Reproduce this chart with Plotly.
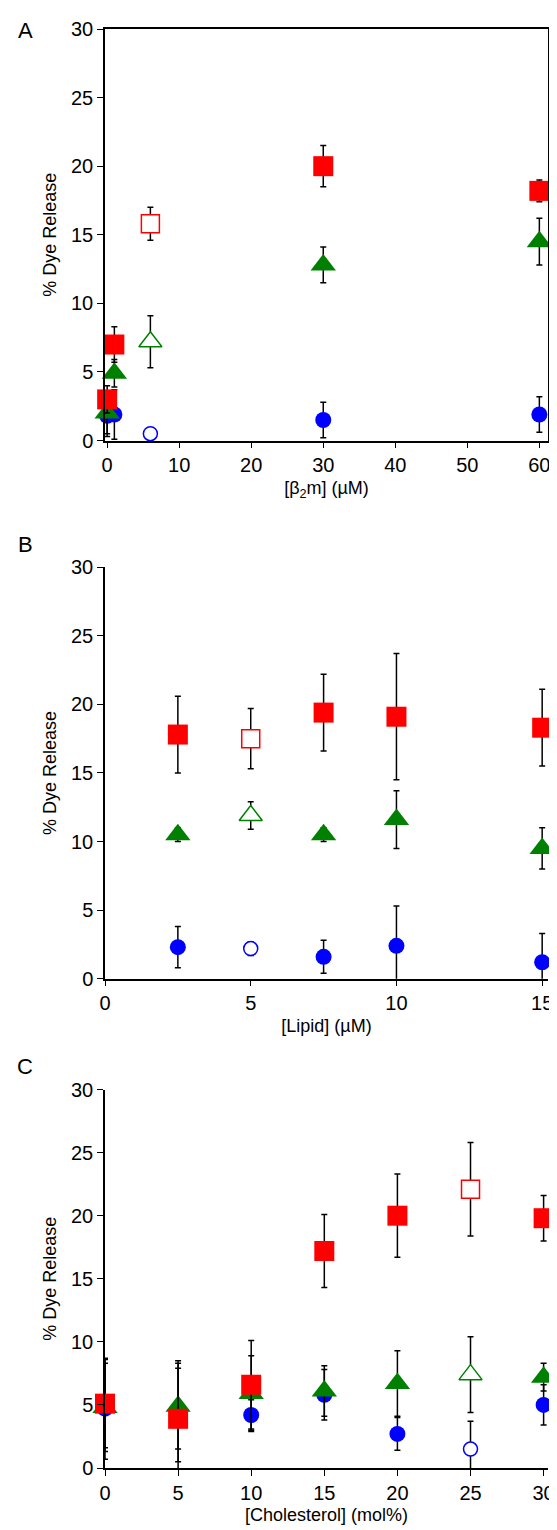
import plotly.graph_objects as go

# Panel A: [b2m] (uM)
a_x = [0, 1, 6, 30, 60]
a_red = [3.0, 7.0, 15.8, 20.0, 18.2]
a_red_err = [1.0, 1.3, 1.2, 1.5, 0.8]
a_green = [2.0, 4.9, 7.2, 12.8, 14.5]
a_green_err = [1.5, 1.0, 1.9, 1.3, 1.7]
a_blue = [1.8, 1.9, 0.5, 1.5, 1.9]
a_blue_err = [1.5, 1.8, 0.0, 1.3, 1.3]
a_open = 2  # index of open symbol

# Panel B: [Lipid] (uM)
b_x = [2.5, 5, 7.5, 10, 15]
b_red = [17.8, 17.5, 19.4, 19.1, 18.3]
b_red_err = [2.8, 2.2, 2.8, 4.6, 2.8]
b_green = [10.5, 11.9, 10.5, 11.6, 9.5]
b_green_err = [0.5, 1.0, 0.5, 2.1, 1.5]
b_blue = [2.3, 2.2, 1.6, 2.4, 1.2]
b_blue_err = [1.5, 0.5, 1.2, 2.9, 2.1]
b_open = 1

# Panel C: [Cholesterol] (mol%)
c_x = [0, 5, 10, 15, 20, 25, 30]
c_red = [5.1, 3.9, 6.6, 17.2, 20.0, 22.1, 19.8]
c_red_err = [3.5, 4.0, 3.5, 2.9, 3.3, 3.7, 1.8]
c_green = [4.8, 4.9, 5.9, 6.1, 6.7, 7.4, 7.2]
c_green_err = [3.5, 3.4, 3.0, 2.0, 2.6, 3.0, 1.1]
c_blue = [4.7, 4.5, 4.2, 5.8, 2.7, 1.5, 5.0]
c_blue_err = [4.0, 4.0, 1.2, 2.0, 1.3, 2.2, 1.6]
c_open = 5

fig = go.Figure()

series = [
    ("blue", "circle", 16),
    ("green", "triangle-up", 22),
    ("red", "square", 20),
]

panels = [
    (a_x, [(a_blue, a_blue_err), (a_green, a_green_err), (a_red, a_red_err)], a_open, "x", "y"),
    (b_x, [(b_blue, b_blue_err), (b_green, b_green_err), (b_red, b_red_err)], b_open, "x2", "y2"),
    (c_x, [(c_blue, c_blue_err), (c_green, c_green_err), (c_red, c_red_err)], c_open, "x3", "y3"),
]

for xs, data, op, xa, ya in panels:
    for (col, sym, sz), (ys, es) in zip(series, data):
        fx = [x for i, x in enumerate(xs) if i != op]
        fy = [y for i, y in enumerate(ys) if i != op]
        fe = [e for i, e in enumerate(es) if i != op]
        fig.add_trace(go.Scatter(
            x=fx, y=fy, mode="markers", xaxis=xa, yaxis=ya, cliponaxis=False,
            error_y=dict(type="data", array=fe, color="black", thickness=1.5, width=3),
            marker=dict(color=col, symbol=sym, size=sz)))
        fig.add_trace(go.Scatter(
            x=[xs[op]], y=[ys[op]], mode="markers", xaxis=xa, yaxis=ya, cliponaxis=False,
            error_y=dict(type="data", array=[es[op]], color="black", thickness=1.5, width=3),
            marker=dict(color="white", symbol=sym, size=sz - 2,
                        line=dict(color=col, width=1.5))))

ax = dict(showline=True, linecolor="black", linewidth=1.5, ticks="outside",
          tickcolor="black", ticklen=6, showgrid=False, zeroline=False,
          tickfont=dict(size=20, color="black"), title_font=dict(size=18, color="black"))

fig.update_layout(
    width=557, height=1530, showlegend=False,
    paper_bgcolor="white", plot_bgcolor="white",
    font=dict(family="Arial, Liberation Sans, sans-serif", color="black"),
    margin=dict(l=97, r=10, t=20, b=70),
    xaxis=dict(ax, range=[-0.3, 61.2], dtick=10, mirror=True, anchor="y",
               title=dict(text="[β<sub>2</sub>m] (µM)", standoff=6)),
    yaxis=dict(ax, range=[0, 30], dtick=5, mirror=True, domain=[0.714, 1],
               title=dict(text="% Dye Release", standoff=10)),
    xaxis2=dict(ax, range=[0, 15.2], anchor="y2", tickvals=[0, 5, 10, 15],
                title=dict(text="[Lipid] (µM)", standoff=6)),
    yaxis2=dict(ax, range=[0, 30], dtick=5, domain=[0.34, 0.626],
                anchor="x2", title=dict(text="% Dye Release", standoff=10)),
    xaxis3=dict(ax, range=[0, 30.3], dtick=5, anchor="y3",
                title=dict(text="[Cholesterol] (mol%)", standoff=6)),
    yaxis3=dict(ax, range=[0, 30], dtick=5, domain=[0, 0.263],
                anchor="x3", title=dict(text="% Dye Release", standoff=10)),
)

for lbl, yy in [("A", 1.0), ("B", 0.643), ("C", 0.28)]:
    fig.add_annotation(text=lbl, xref="paper", yref="paper", x=-0.18, y=yy + 0.009,
                       xanchor="center", yanchor="top", showarrow=False,
                       font=dict(size=22, color="black"))

fig.write_html("out.html")
